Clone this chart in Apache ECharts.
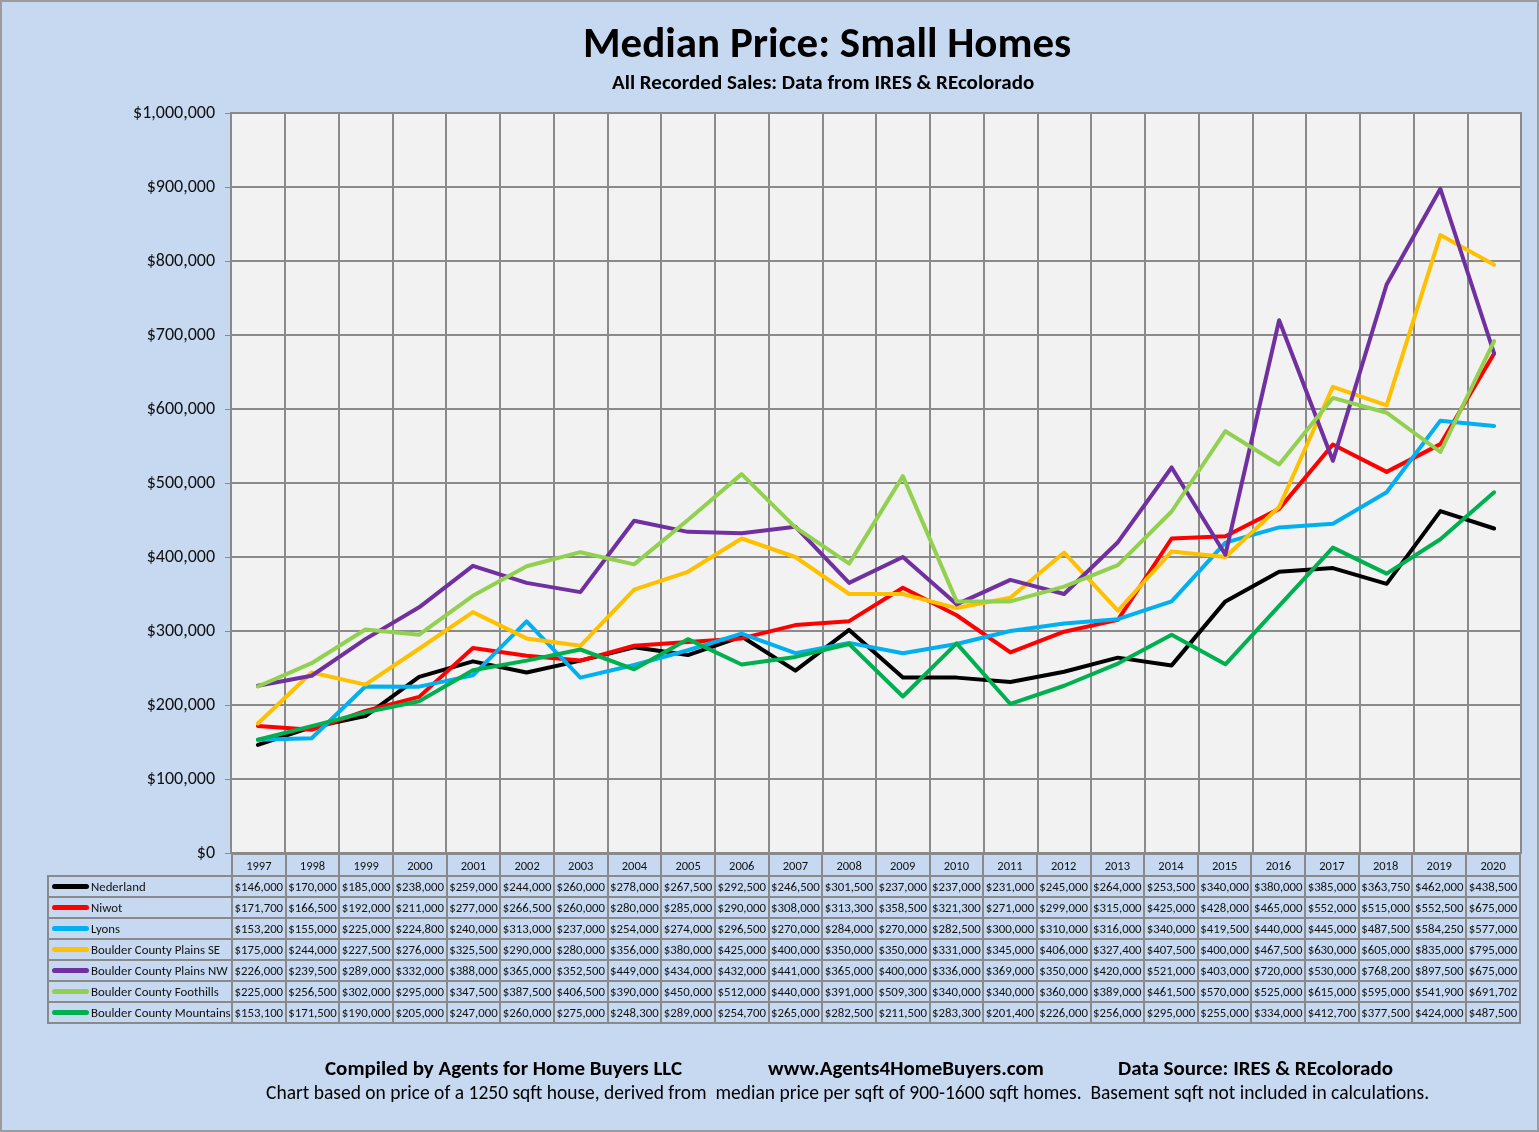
<!DOCTYPE html>
<html lang="en">
<head>
<meta charset="UTF-8">
<title>Median Price: Small Homes</title>
<style>
    body { margin: 0; }
    #wrap { position: relative; width: 1539px; height: 1132px; background: #c6d9f1; overflow: hidden;
            font-family: Carlito, Lato, sans-serif; }
    #main { position: absolute; left: 0; top: 0; width: 1539px; height: 1132px; }
    #frame { position: absolute; left: 0; top: 0; width: 1539px; height: 1132px; box-sizing: border-box;
             border: 2px solid #9c9c9c; pointer-events: none; }
    #tbl { position: absolute; left: 47px; top: 853px; width: 1474px; table-layout: fixed;
           border-collapse: collapse; font-size: 12.8px; color: #111; }
    #tbl td { border: 2px solid #8a8a8a; padding: 0; text-align: center; white-space: nowrap;
              overflow: hidden; height: 19px; line-height: 19px; }
    #tbl tr.yr td { height: 20px; font-size: 12.5px; }
    #tbl td.blank { border: none; }
    #tbl td.name { text-align: left; padding-left: 3px; }
    .swatch { display: inline-block; width: 37px; height: 5px; border-radius: 3px; vertical-align: middle;
              margin-right: 2px; position: relative; top: -1px; }
</style>
</head>
<body>
<div id="wrap">
    <div id="main"></div>
    <table id="tbl"></table>
    <div id="frame"></div>
</div>
<script src="https://cdn.jsdelivr.net/npm/echarts@6/dist/echarts.min.js"></script>
<script>
    var years = ['1997','1998','1999','2000','2001','2002','2003','2004','2005','2006','2007','2008',
                 '2009','2010','2011','2012','2013','2014','2015','2016','2017','2018','2019','2020'];

    var nederland = [146000,170000,185000,238000,259000,244000,260000,278000,267500,292500,246500,301500,
                     237000,237000,231000,245000,264000,253500,340000,380000,385000,363750,462000,438500];
    var niwot = [171700,166500,192000,211000,277000,266500,260000,280000,285000,290000,308000,313300,
                 358500,321300,271000,299000,315000,425000,428000,465000,552000,515000,552500,675000];
    var lyons = [153200,155000,225000,224800,240000,313000,237000,254000,274000,296500,270000,284000,
                 270000,282500,300000,310000,316000,340000,419500,440000,445000,487500,584250,577000];
    var plainsSE = [175000,244000,227500,276000,325500,290000,280000,356000,380000,425000,400000,350000,
                    350000,331000,345000,406000,327400,407500,400000,467500,630000,605000,835000,795000];
    var plainsNW = [226000,239500,289000,332000,388000,365000,352500,449000,434000,432000,441000,365000,
                    400000,336000,369000,350000,420000,521000,403000,720000,530000,768200,897500,675000];
    var foothills = [225000,256500,302000,295000,347500,387500,406500,390000,450000,512000,440000,391000,
                     509300,340000,340000,360000,389000,461500,570000,525000,615000,595000,541900,691702];
    var mountains = [153100,171500,190000,205000,247000,260000,275000,248300,289000,254700,265000,282500,
                     211500,283300,201400,226000,256000,295000,255000,334000,412700,377500,424000,487500];

    var seriesNames = ['Nederland', 'Niwot', 'Lyons', 'Boulder County Plains SE', 'Boulder County Plains NW',
                       'Boulder County Foothills', 'Boulder County Mountains'];
    var seriesData = [nederland, niwot, lyons, plainsSE, plainsNW, foothills, mountains];
    var seriesColors = ['#000000', '#ff0000', '#00b0f0', '#ffc000', '#7030a0', '#92d050', '#00b050'];

    function money(v) {
        return '$' + v.toString().replace(/\B(?=(\d{3})+(?!\d))/g, ',');
    }

    // data table under the plot
    var html = '<colgroup><col style="width:184px">';
    for (var i = 0; i < years.length; i++) html += '<col>';
    html += '</colgroup><tr class="yr"><td class="blank"></td>';
    for (var i = 0; i < years.length; i++) html += '<td>' + years[i] + '</td>';
    html += '</tr>';
    for (var s = 0; s < seriesNames.length; s++) {
        html += '<tr><td class="name"><span class="swatch" style="background:' + seriesColors[s] + '"></span>' +
                seriesNames[s] + '</td>';
        for (var i = 0; i < years.length; i++) html += '<td>' + money(seriesData[s][i]) + '</td>';
        html += '</tr>';
    }
    document.getElementById('tbl').innerHTML = html;

    var myChart = echarts.init(document.getElementById('main'));
    var series = [];
    for (var s = 0; s < seriesNames.length; s++) {
        series.push({
            name: seriesNames[s],
            type: 'line',
            data: seriesData[s],
            showSymbol: false,
            symbol: 'none',
            lineStyle: { color: seriesColors[s], width: 4, join: 'round', cap: 'round' },
            itemStyle: { color: seriesColors[s] },
            animation: false
        });
    }

    var font = 'Carlito, Lato, sans-serif';
    var option = {
        textStyle: { fontFamily: font },
        title: [{
            text: 'Median Price: Small Homes',
            left: 578,
            top: 20,
            textStyle: { fontSize: 43, fontWeight: 'bold', color: '#000', fontFamily: font }
        }, {
            text: 'All Recorded Sales: Data from IRES & REcolorado',
            left: 607,
            top: 68,
            textStyle: { fontSize: 21, fontWeight: 'bold', color: '#000', fontFamily: font }
        }],
        grid: {
            left: 231, right: 18, top: 113, bottom: 279,
            show: true, backgroundColor: '#f2f2f2', borderColor: '#8a8a8a', borderWidth: 2
        },
        xAxis: {
            type: 'category',
            data: years,
            boundaryGap: true,
            axisLine: { show: false },
            axisTick: { show: false },
            axisLabel: { show: false },
            splitLine: { show: true, lineStyle: { color: '#8a8a8a', width: 2 } }
        },
        yAxis: {
            type: 'value',
            min: 0, max: 1000000, interval: 100000,
            axisLine: { show: true, lineStyle: { color: '#8a8a8a', width: 2 } },
            axisTick: { show: true, length: 6, lineStyle: { color: '#8a8a8a', width: 1 } },
            axisLabel: { color: '#111', fontSize: 18, margin: 16, formatter: function (v) { return money(v); } },
            splitLine: { show: true, lineStyle: { color: '#8a8a8a', width: 2 } }
        },
        graphic: [{
            type: 'text', left: 325, top: 1059, z: 10,
            style: { text: 'Compiled by Agents for Home Buyers LLC',
                     fontSize: 21, fontWeight: 'bold', fill: '#000', fontFamily: font }
        }, {
            type: 'text', left: 768, top: 1059, z: 10,
            style: { text: 'www.Agents4HomeBuyers.com',
                     fontSize: 21, fontWeight: 'bold', fill: '#000', fontFamily: font }
        }, {
            type: 'text', left: 1118, top: 1059, z: 10,
            style: { text: 'Data Source: IRES & REcolorado',
                     fontSize: 21, fontWeight: 'bold', fill: '#000', fontFamily: font }
        }, {
            type: 'text', left: 266, top: 1084, z: 10,
            style: { text: 'Chart based on price of a 1250 sqft house, derived from  median price per sqft of 900-1600 sqft homes.  Basement sqft not included in calculations.',
                     fontSize: 19.5, fill: '#000', fontFamily: font }
        }],
        series: series
    };

    myChart.setOption(option);
</script>
</body>
</html>
